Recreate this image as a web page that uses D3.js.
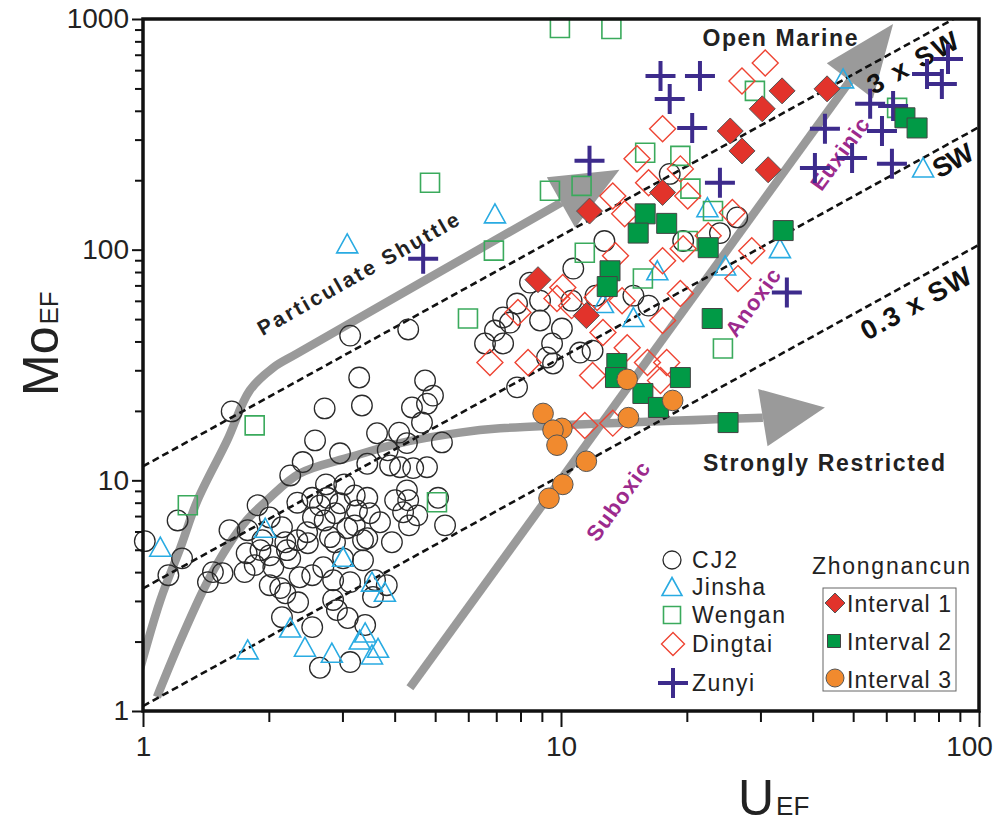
<!DOCTYPE html>
<meta charset="utf-8">
<style>
body { margin: 0; background: #fff; }
svg { font-family: "Liberation Sans", Arial, sans-serif; }
</style>
<body>
<svg id="chart" width="998" height="825"></svg>
<script src="https://cdn.jsdelivr.net/npm/d3@7"></script>
<script>

// [U_EF, Mo_EF]
var cj2 = [
  [1.63,19.9],[3.29,27.9],[4.73,27.1],[4.94,23.3],[4.78,21.5],[4.40,20.7],[4.65,17.8],[2.72,20.5],[3.34,21.1],[2.58,14.9],
  [3.63,16.0],[4.10,16.1],[4.28,14.5],[5.19,14.6],[2.96,13.1],[2.41,12.0],[2.25,10.5],[3.85,13.5],[3.44,11.8],[3.90,11.6],
  [4.12,11.4],[4.43,11.3],[4.78,11.4],[2.74,9.6],[3.03,9.6],[3.21,8.6],[3.44,8.4],[4.28,9.05],[4.31,8.2],[5.08,8.4],
  [1.88,7.8],[2.34,8.0],[2.54,8.4],[2.76,8.4],[2.96,7.95],[2.01,6.9],[2.15,6.26],[2.55,6.9],[2.88,7.2],[3.25,7.4],
  [3.49,7.2],[4.19,7.27],[4.53,7.05],[4.33,6.38],[5.28,6.38],[1.61,6.08],[1.78,6.08],[2.47,5.96],[2.72,6.7],[3.08,6.2],
  [3.69,6.58],[3.94,5.39],[3.36,5.5],[2.88,5.39],[2.48,5.34],[2.19,5.39],[1.91,4.98],[1.77,4.83],[1.21,6.7],[1.01,5.45],
  [1.24,4.59],[1.15,3.88],[1.43,3.62],[1.47,4.0],[1.55,3.96],[1.75,4.0],[2.01,4.73],[2.21,4.98],[2.05,4.2],[2.25,4.59],
  [2.80,5.67],[3.44,5.61],[2.01,3.51],[2.19,3.24],[2.37,3.8],[2.54,3.88],[2.70,4.2],[2.85,3.69],[3.13,3.62],[3.36,4.5],
  [3.01,4.59],[2.13,3.41],[2.35,2.96],[2.85,3.03],[2.91,2.74],[3.09,2.53],[3.55,3.12],[3.83,3.51],[2.15,2.55],[2.54,2.31],
  [3.40,2.36],[2.65,1.54],[3.13,1.63],[1.93,5.5],[2.34,5.5],[2.65,7.79],[3.21,6.38],[4.01,8.2],[3.59,3.69],[1.85,4.29],
  [3.13,42.4],[4.31,45.1],
  [12.7,109],[10.7,82.8],[8.43,72],[7.85,58.4],[8.91,60.1],[7.27,50.8],[7.55,48.3],[6.95,44.6],[6.58,39.2],[7.27,39.2],
  [8.91,49.3],[10.05,45.5],[9.52,39.2],[9.26,34.1],[9.57,32.1],[11.1,35.8],[11.9,36.5],[10.6,60.1],[12.1,63.2],[14.9,63.2],
  [16.2,57.2],[7.85,25.3],[19.6,109],[24.0,118],[26.4,138],[18.2,213]
];
var jinsha = [
  [1.10,5.13],[1.96,6.2],[3.01,4.64],[3.53,3.62],[3.79,3.27],[2.25,2.29],[1.78,1.84],[2.44,1.89],[2.83,1.78],[3.40,2.18],
  [3.30,2.03],[3.65,1.87],[3.53,1.75],[3.08,106],[6.95,143],[22.4,152],[17.0,81],[24.7,85],[33.4,101],[12.6,58.4],
  [14.9,50.8],[47.3,550],[73.5,226]
];
var wengan = [
  [9.94,914],[13.2,905],[4.86,195],[9.41,180],[11.2,189],[15.9,263],[19.3,255],[20.4,184],[23.1,147],[29.1,488],
  [63.7,412],[6.91,99],[5.99,50.3],[11.4,97],[15.7,75],[20.1,109],[24.4,37.3],[1.85,17.3],[1.28,7.8],[5.05,8.03]
];
var dingtai = [
  [13.3,171],[20.1,171],[14.2,143],[16.2,195],[25.7,145],[22.5,115],[19.6,101],[17.5,89.6],[13.5,94.2],[28.6,99],
  [26.5,74.9],[19.3,64.5],[10.1,68.5],[9.78,61.4],[7.89,53.4],[10.6,57.2],[14.0,60.1],[12.2,62.0],[17.5,49.3],[12.6,43.7],
  [14.4,37.6],[6.76,32.4],[8.34,32.4],[11.9,28.5],[16.1,32.4],[17.9,32.4],[17.3,27.1],[11.4,17.3],[13.3,17.7],[30.8,645],
  [27.1,539],[17.5,334],[15.2,248],[19.3,224]
];
var zunyi = [
  [17.3,566],[21.5,566],[18.2,450],[20.6,337],[11.7,243],[24.0,195],[42.8,334],[40.5,226],[49.7,250],[54.9,429],
  [62.3,420],[58.6,327],[61.9,236],[84.3,671],[75.1,578],[81.5,523],[34.7,65.2],[4.68,91.4]
];
var interval1 = [
  [11.7,147],[17.5,177],[25.4,327],[27.1,268],[30.3,408],[33.8,488],[43.3,498],[31.3,222],[8.81,74.1],[11.5,51.8]
];
var interval2 = [
  [15.9,143],[15.3,118],[17.9,130],[22.5,102],[13.1,81],[12.9,69.2],[23.0,50.3],[13.6,32.1],[19.3,27.9],[15.7,23.8],
  [17.1,20.7],[25.1,17.8],[34.0,121],[66.5,373],[71.1,337],[13.5,27.9]
];
var interval3 = [
  [14.4,27.4],[18.5,22.2],[9.06,19.5],[10.05,16.8],[9.57,16.5],[9.78,14.2],[14.5,18.7],[11.5,12.1],[10.1,9.6],[9.36,8.36]
];

// Mo/U ratio of the seawater reference lines
var swRatios = [11.5, 3.4, 1.05];

// gray trend arrows, [U, Mo] along the shaft, then the tip
var shuttlePath = [[0.967,1.36],[1.10,3.02],[1.23,5.13],[1.35,8.19],[1.59,14.9],[1.80,24.5],[2.05,30.8],[2.34,35.5],[10.0,160]];
var shuttleTip = [13.8,222];
var restrictedPath = [[1.08,1.15],[1.23,2.03],[1.42,3.58],[1.59,5.13],[1.77,6.71],[1.98,8.19],[2.37,10.7],[3.13,12.6],[4.12,14.5],[5.73,16.1],[7.15,16.8],[30.4,18.7]];
var restrictedTip = [42.8,20.7];
var redoxPath = [[4.35,1.26],[49.1,539]];
var redoxTip = [62.3,951];

var xTicks = [1, 10, 100],
    yTicks = [1, 10, 100, 1000];

var svg = d3.select("#chart");

var x = d3.scaleLog().domain([1, 100]).range([143, 979]),
    y = d3.scaleLog().domain([1, 1000]).range([711, 19]);

svg.append("defs").append("clipPath")
    .attr("id", "plot")
  .append("rect")
    .attr("x", 143).attr("y", 19)
    .attr("width", 836).attr("height", 692);

svg.append("rect").attr("width", 998).attr("height", 825).attr("fill", "#fff");

var back = svg.append("g").attr("clip-path", "url(#plot)");

// arrows
var curve = d3.line()
    .x(function(d) { return x(d[0]); })
    .y(function(d) { return y(d[1]); })
    .curve(d3.curveCatmullRom.alpha(0.5));

function arrow(pts, tip) {
  back.append("path")
      .attr("d", curve(pts))
      .attr("fill", "none")
      .attr("stroke", "#9a9a9a")
      .attr("stroke-width", 8.5);
  var b = pts[pts.length - 1],
      bx = x(b[0]), by = y(b[1]),
      tx = x(tip[0]), ty = y(tip[1]),
      dx = tx - bx, dy = ty - by,
      len = Math.sqrt(dx * dx + dy * dy),
      nx = -dy / len * 29, ny = dx / len * 29;
  back.append("path")
      .attr("d", "M" + tx + "," + ty + "L" + (bx + nx) + "," + (by + ny) + "L" + (bx - nx) + "," + (by - ny) + "Z")
      .attr("fill", "#9a9a9a");
}
arrow(shuttlePath, shuttleTip);
arrow(restrictedPath, restrictedTip);
arrow(redoxPath, redoxTip);

// seawater lines
back.selectAll(".sw")
    .data(swRatios)
  .enter().append("line")
    .attr("class", "sw")
    .attr("x1", x(1)).attr("y1", function(k) { return y(k); })
    .attr("x2", x(100)).attr("y2", function(k) { return y(k * 100); })
    .attr("stroke", "#111")
    .attr("stroke-width", 2.6)
    .attr("stroke-dasharray", "7,4");

// annotation text, anchored in data space
function label(t, at, angle, size, color, len) {
  svg.append("text")
      .attr("transform", "translate(" + x(at[0]) + "," + y(at[1]) + ") rotate(" + angle + ")")
      .attr("text-anchor", "middle")
      .attr("dominant-baseline", "central")
      .attr("font-weight", "bold")
      .attr("font-size", size)
      .attr("fill", color)
      .attr("textLength", len)
      .attr("lengthAdjust", "spacing")
      .text(t);
}
label("Particulate Shuttle", [3.27, 78.7], -29.5, 21, "#222", 228);
label("Open Marine", [33.4, 828], 0, 23, "#222", 155);
label("Strongly Restricted", [42.6, 11.9], 0, 23, "#222", 242);
label("3 x SW", [69.5, 645], -29, 27, "#111", 100);
label("SW", [86.7, 243], -29, 27, "#111", 42);
label("0.3 x SW", [70.7, 58.4], -29, 27, "#111", 122);
label("Euxinic", [46.5, 260], -54, 22, "#9c2a8d", 84);
label("Anoxic", [28.8, 59.0], -54, 22, "#9c2a8d", 78);
label("Suboxic", [13.7, 8.11], -54, 22, "#9c2a8d", 92);

// marker shapes
function tri(s) { return "M0," + (-s) + "L" + (s * 1.05) + "," + (s * 0.9) + "L" + (-s * 1.05) + "," + (s * 0.9) + "Z"; }
function sq(s) { return "M" + (-s) + "," + (-s) + "h" + (2 * s) + "v" + (2 * s) + "h" + (-2 * s) + "Z"; }
function dia(s) { return "M0," + (-s) + "L" + s + ",0L0," + s + "L" + (-s) + ",0Z"; }
function plus(s) { return "M" + (-s) + ",0H" + s + "M0," + (-s) + "V" + s; }

var pts = svg.append("g");

function scatter(data, d, fill, stroke, width) {
  pts.append("g").selectAll("path")
      .data(data)
    .enter().append("path")
      .attr("transform", function(p) { return "translate(" + x(p[0]) + "," + y(p[1]) + ")"; })
      .attr("d", d)
      .attr("fill", fill)
      .attr("stroke", stroke)
      .attr("stroke-width", width);
}
function circles(data, r, fill, stroke, width) {
  pts.append("g").selectAll("circle")
      .data(data)
    .enter().append("circle")
      .attr("cx", function(p) { return x(p[0]); })
      .attr("cy", function(p) { return y(p[1]); })
      .attr("r", r)
      .attr("fill", fill)
      .attr("stroke", stroke)
      .attr("stroke-width", width);
}

circles(cj2, 10.3, "none", "#2a2a2a", 1.3);
scatter(jinsha, tri(10), "none", "#29abe2", 1.6);
scatter(wengan, sq(9.5), "none", "#3aaa5c", 1.6);
scatter(dingtai, dia(13), "none", "#ee4433", 1.4);
scatter(zunyi, plus(15), "none", "#3d2b8c", 4);
scatter(interval1, dia(13), "#e2332b", "#555", 1);
scatter(interval2, sq(10), "#019a46", "#444", 1);
circles(interval3, 10.3, "#f18a2e", "#555", 1);

// axes
var minorX = [], minorY = [];
[1, 10].forEach(function(d) { for (var k = 2; k < 10; k++) minorX.push(d * k); });
[1, 10, 100].forEach(function(d) { for (var k = 2; k < 10; k++) minorY.push(d * k); });

function styleAxis(g) {
  g.select(".domain").remove();
  g.selectAll("line").attr("stroke", "#111").attr("stroke-width", 2);
  g.selectAll("text").attr("fill", "#222").attr("font-size", 28).attr("font-family", "Liberation Sans, Arial, sans-serif");
}

svg.append("g")
    .attr("transform", "translate(0,711)")
    .call(d3.axisBottom(x).tickValues(minorX).tickSize(11).tickFormat(""))
    .call(styleAxis);
svg.append("g")
    .attr("transform", "translate(0,711)")
    .call(d3.axisBottom(x).tickValues(xTicks).tickSize(16).tickPadding(9).tickFormat(d3.format("d")))
    .call(styleAxis)
    .selectAll("text")
    .attr("dx", function(d) { return d === 100 ? -10 : 0; });

svg.append("g")
    .attr("transform", "translate(143,0)")
    .call(d3.axisLeft(y).tickValues(minorY).tickSize(8).tickFormat(""))
    .call(styleAxis);
svg.append("g")
    .attr("transform", "translate(143,0)")
    .call(d3.axisLeft(y).tickValues(yTicks).tickSize(11).tickPadding(3).tickFormat(d3.format("d")))
    .call(styleAxis);

// frame
svg.append("rect")
    .attr("x", 143).attr("y", 19)
    .attr("width", 836).attr("height", 692)
    .attr("fill", "none")
    .attr("stroke", "#111")
    .attr("stroke-width", 3.5);

// axis titles
var xt = svg.append("text").attr("x", 738).attr("y", 815).attr("fill", "#222");
xt.append("tspan").attr("font-size", 50).text("U");
xt.append("tspan").attr("font-size", 26).attr("dx", 2).text("EF");

var yt = svg.append("text").attr("transform", "translate(58,396) rotate(-90)").attr("fill", "#222");
yt.append("tspan").attr("font-size", 50).text("Mo");
yt.append("tspan").attr("font-size", 26).attr("dx", 2).text("EF");

// legend
var legend = svg.append("g").attr("font-size", 23).attr("fill", "#222");
var leftItems = [
  {name: "CJ2", y: 560, w: 45},
  {name: "Jinsha", y: 587, w: 73},
  {name: "Wengan", y: 615, w: 93},
  {name: "Dingtai", y: 644, w: 80},
  {name: "Zunyi", y: 683, w: 62}
];
legend.append("circle").attr("cx", 672).attr("cy", 560).attr("r", 9).attr("fill", "none").attr("stroke", "#2a2a2a").attr("stroke-width", 1.3);
legend.append("path").attr("transform", "translate(672,587)").attr("d", tri(9.5)).attr("fill", "none").attr("stroke", "#29abe2").attr("stroke-width", 1.6);
legend.append("path").attr("transform", "translate(672,615)").attr("d", sq(8.5)).attr("fill", "none").attr("stroke", "#3aaa5c").attr("stroke-width", 1.6);
legend.append("path").attr("transform", "translate(673,644)").attr("d", dia(11.5)).attr("fill", "none").attr("stroke", "#ee4433").attr("stroke-width", 1.4);
legend.append("path").attr("transform", "translate(673,683)").attr("d", plus(15)).attr("fill", "none").attr("stroke", "#3d2b8c").attr("stroke-width", 4);
legend.selectAll(".lt")
    .data(leftItems)
  .enter().append("text")
    .attr("class", "lt")
    .attr("x", 692)
    .attr("y", function(d) { return d.y; })
    .attr("dy", "0.36em")
    .attr("textLength", function(d) { return d.w; })
    .attr("lengthAdjust", "spacing")
    .text(function(d) { return d.name; });

legend.append("text").attr("x", 812).attr("y", 566).attr("dy", "0.36em")
    .attr("textLength", 158).attr("lengthAdjust", "spacing").text("Zhongnancun");
legend.append("rect").attr("x", 823).attr("y", 588).attr("width", 133).attr("height", 103)
    .attr("fill", "#fff").attr("stroke", "#666").attr("stroke-width", 1);
legend.append("path").attr("transform", "translate(835,603)").attr("d", dia(10)).attr("fill", "#e2332b").attr("stroke", "#555").attr("stroke-width", 1);
legend.append("path").attr("transform", "translate(834,641)").attr("d", sq(6.5)).attr("fill", "#019a46").attr("stroke", "#444").attr("stroke-width", 1);
legend.append("circle").attr("cx", 835).attr("cy", 678).attr("r", 9).attr("fill", "#f18a2e").attr("stroke", "#555").attr("stroke-width", 1);
legend.selectAll(".it")
    .data(["Interval 1", "Interval 2", "Interval 3"])
  .enter().append("text")
    .attr("class", "it")
    .attr("x", 847)
    .attr("y", function(d, i) { return 604 + i * 38; })
    .attr("dy", "0.36em")
    .attr("textLength", 104)
    .attr("lengthAdjust", "spacing")
    .text(function(d) { return d; });

</script>
</body>
